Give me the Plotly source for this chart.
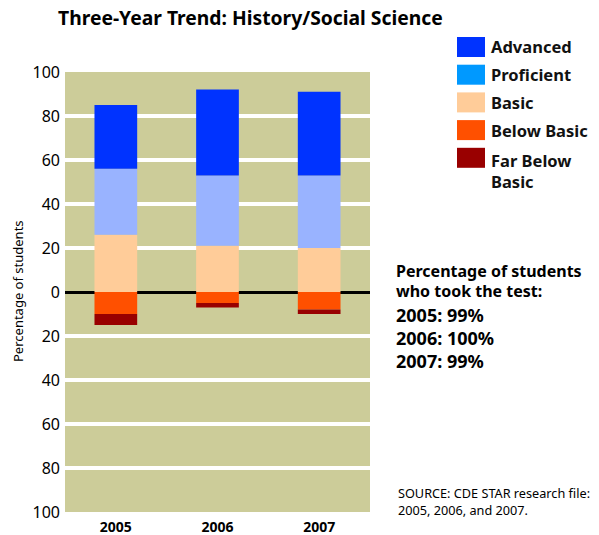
import plotly.graph_objects as go

# Performance-level shares (% of students) by year
years = ["2005", "2006", "2007"]
advanced = [29, 39, 38]
proficient = [30, 32, 33]
basic = [26, 21, 20]
below_basic = [10, 5, 8]
far_below_basic = [5, 2, 2]

tested_share = ["2005: 99%", "2006: 100%", "2007: 99%"]
tick_values = [-100, -80, -60, -40, -20, 0, 20, 40, 60, 80, 100]
tick_labels = [str(abs(v)) for v in tick_values]

W, H = 599, 535
L, R, T, B = 65, 229, 72, 23
PW, PH = W - L - R, H - T - B

FONT = "Noto Sans"


def px(x):
    return (x - L) / PW


def py(y):
    return (H - B - y) / PH


fig = go.Figure()

bar_specs = [
    ("Basic", basic, 1, "#ffcc99"),
    ("Proficient", proficient, 1, "#99b3ff"),
    ("Advanced", advanced, 1, "#0033ff"),
    ("Below Basic", below_basic, -1, "#ff5000"),
    ("Far Below Basic", far_below_basic, -1, "#990000"),
]
for name, vals, sign, color in bar_specs:
    fig.add_trace(go.Bar(
        x=years, y=[sign * v for v in vals], name=name,
        marker=dict(color=color, line=dict(width=0)),
        showlegend=False,
    ))

shapes = []
annotations = []

# Legend keys
legend_items = [
    ("Advanced", "#0033ff"),
    ("Proficient", "#0099ff"),
    ("Basic", "#ffcc99"),
    ("Below Basic", "#ff5000"),
    ("Far Below<br>Basic", "#990000"),
]
for i, (label, color) in enumerate(legend_items):
    y0 = 37 + i * 27.7
    shapes.append(dict(type="rect", xref="paper", yref="paper",
                       x0=px(457), x1=px(485), y0=py(y0), y1=py(y0 + 20),
                       fillcolor=color, line=dict(width=0)))
    annotations.append(dict(xref="paper", yref="paper", x=px(489),
                            y=py(y0 + 10 if i < 4 else y0 - 1),
                            xanchor="left",
                            yanchor="middle" if i < 4 else "top",
                            text=f"<b>{label}</b>", showarrow=False,
                            align="left",
                            font=dict(family=FONT, size=16.5, color="#111")))

# Title
annotations.append(dict(xref="paper", yref="paper", x=px(250), y=py(18),
                        xanchor="center", yanchor="middle",
                        text="<b>Three-Year Trend: History/Social Science</b>",
                        showarrow=False,
                        font=dict(family=FONT, size=19.3, color="#000")))

# Participation note
for i, line in enumerate(["Percentage of students", "who took the test:"]):
    annotations.append(dict(xref="paper", yref="paper", x=px(395),
                            y=py(271 + i * 19.5),
                            xanchor="left", yanchor="middle",
                            text=f"<b>{line}</b>", showarrow=False,
                            borderpad=0,
                            font=dict(family=FONT, size=16, color="#000")))
for i, t in enumerate(tested_share):
    annotations.append(dict(xref="paper", yref="paper", x=px(395),
                            y=py(315 + i * 23),
                            xanchor="left", yanchor="middle",
                            text=f"<b>{t}</b>", showarrow=False,
                            borderpad=0,
                            font=dict(family=FONT, size=18, color="#000")))

# Source note
annotations.append(dict(xref="paper", yref="paper", x=px(396), y=py(482),
                        xanchor="left", yanchor="top",
                        text="SOURCE: CDE STAR research file:<br>2005, 2006, and 2007.",
                        showarrow=False, align="left",
                        font=dict(family=FONT, size=12.7, color="#000")))

# Y-axis title
annotations.append(dict(xref="paper", yref="paper", x=px(18), y=py(291),
                        xanchor="center", yanchor="middle", textangle=-90,
                        text="Percentage of students", showarrow=False,
                        font=dict(family=FONT, size=13, color="#000")))

fig.update_layout(
    width=W, height=H,
    margin=dict(l=L, r=R, t=T, b=B, pad=0),
    paper_bgcolor="white",
    plot_bgcolor="#cccc99",
    barmode="relative",
    bargap=0.58,
    shapes=shapes,
    annotations=annotations,
    xaxis=dict(
        showgrid=False, showline=False, ticks="",
        tickfont=dict(family=FONT, size=14, color="#000"),
        tickprefix="<b>", ticksuffix="</b>",
        ticklabelstandoff=5,
        automargin=False,
        fixedrange=True,
    ),
    yaxis=dict(
        range=[-100, 100],
        tickvals=tick_values, ticktext=tick_labels,
        showgrid=True, gridcolor="white", gridwidth=3.5,
        zeroline=True, zerolinecolor="black", zerolinewidth=3,
        showline=False, ticks="",
        tickfont=dict(family=FONT, size=16, color="#000"),
        ticklabelstandoff=4,
        automargin=False,
        fixedrange=True,
    ),
)

fig.write_html("out.html", config={"displayModeBar": False})
